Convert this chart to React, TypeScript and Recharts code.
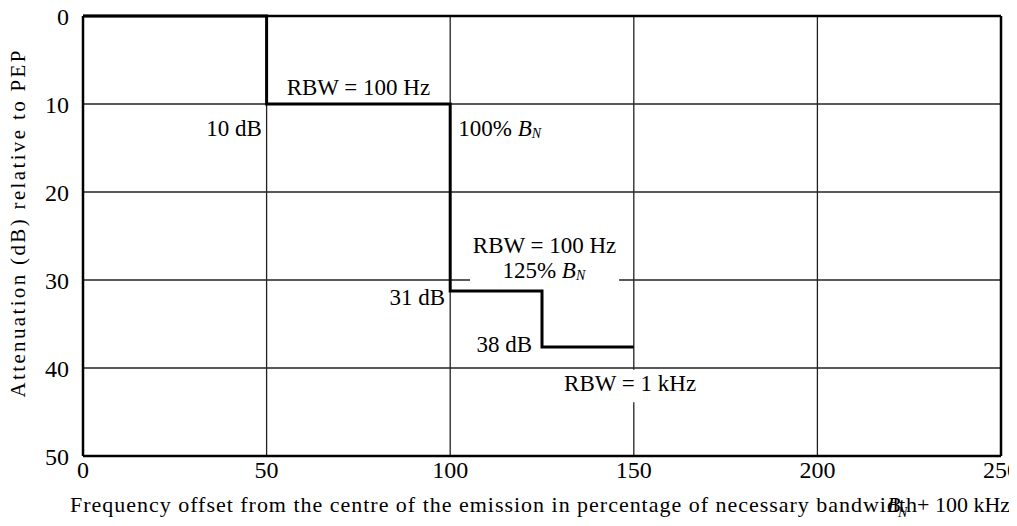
import React from "react";
import {
  LineChart,
  Line,
  XAxis,
  YAxis,
  CartesianGrid,
  ReferenceLine,
  ReferenceArea,
  ReferenceDot,
} from "recharts";

// Frequency offset (% of necessary bandwidth) and attenuation (dB) of the mask
const freqOffset = [0, 50, 100, 125, 150];
const attenuation = [0, 10, 31.25, 37.6, 37.6];
const xTicks = [0, 50, 100, 150, 200, 250];
const yTicks = [0, 10, 20, 30, 40, 50];

const data = freqOffset.map((f, i) => ({ f, a: attenuation[i] }));

const FONT = "Liberation Serif";

type Note = { x: number; y: number; text: string; bn?: boolean; anchor: "start" | "middle" | "end" };

const notes: Note[] = [
  { x: 75, y: 8.1, text: "RBW = 100 Hz", anchor: "middle" },
  { x: 48.7, y: 12.7, text: "10 dB", anchor: "end" },
  { x: 102.2, y: 12.7, text: "100% ", bn: true, anchor: "start" },
  { x: 125.7, y: 26.0, text: "RBW = 100 Hz", anchor: "middle" },
  { x: 125.5, y: 28.9, text: "125% ", bn: true, anchor: "middle" },
  { x: 98.6, y: 31.9, text: "31 dB", anchor: "end" },
  { x: 122.3, y: 37.3, text: "38 dB", anchor: "end" },
  { x: 149, y: 41.7, text: "RBW = 1 kHz", anchor: "middle" },
];

const whiteBoxes = [
  { x1: 105.4, x2: 146, y1: 24.5, y2: 30.6 },
  { x1: 130, x2: 168, y1: 40.2, y2: 43.9 },
];

const noteShape = (n: Note) => (p: any) => (
  <text
    x={p.cx}
    y={p.cy}
    textAnchor={n.anchor}
    dominantBaseline="central"
    fontFamily={FONT}
    fontSize={23}
    fill="#000"
  >
    <tspan>{n.text}</tspan>
    {n.bn ? <tspan fontStyle="italic">B</tspan> : null}
    {n.bn ? (
      <tspan fontStyle="italic" fontSize={14} dy={5}>
        N
      </tspan>
    ) : null}
  </text>
);

const XTitle = (props: any) => {
  const vb = props.viewBox || { x: 0, y: 0 };
  const x0 = vb.x;
  const y0 = vb.y + 56;
  return (
    <g fontFamily={FONT} fontSize={22} fill="#000">
      <text x={x0 - 13} y={y0} textLength={847} lengthAdjust="spacing">
        Frequency offset from the centre of the emission in percentage of necessary bandwidth
      </text>
      <text x={x0 + 804} y={y0} fontStyle="italic">
        B
      </text>
      <text x={x0 + 815} y={y0 + 5} fontStyle="italic" fontSize={14}>
        N
      </text>
      <text x={x0 + 834} y={y0}>+ 100 kHz</text>
    </g>
  );
};

const YTitle = () => {
  const cx = 18;
  const cy = 224;
  return (
    <text
      x={cx}
      y={cy}
      transform={`rotate(-90 ${cx} ${cy})`}
      textAnchor="middle"
      dominantBaseline="central"
      fontFamily={FONT}
      fontSize={21}
      fill="#000"
      textLength={347}
      lengthAdjust="spacing"
    >
      Attenuation (dB) relative to PEP
    </text>
  );
};

export default function App() {
  return (
    <div style={{ margin: "-8px 0 0 -8px", width: 1017, height: 526 }}>
      <LineChart
        width={1017}
        height={526}
        data={data}
        margin={{ top: 16, right: 16, bottom: 40, left: 23 }}
        style={{ background: "#fff" }}
      >
        <CartesianGrid stroke="#222" strokeWidth={1.3} verticalValues={xTicks} horizontalValues={yTicks} />
        {whiteBoxes.map((b, i) => (
          <ReferenceArea
            key={"box" + i}
            x1={b.x1}
            x2={b.x2}
            y1={b.y1}
            y2={b.y2}
            fill="#fff"
            fillOpacity={1}
            stroke="none"
            ifOverflow="visible"
          />
        ))}
        <XAxis
          type="number"
          dataKey="f"
          domain={[0, 250]}
          ticks={xTicks}
          tickLine={false}
          axisLine={false}
          tickSize={0}
          tickMargin={5}
          height={30}
          interval={0}
          tick={{ fontFamily: FONT, fontSize: 24, fill: "#000" }}
          label={{ content: XTitle }}
        />
        <YAxis
          type="number"
          reversed
          domain={[0, 50]}
          ticks={yTicks}
          tickLine={false}
          axisLine={false}
          tickSize={0}
          tickMargin={14}
          width={60}
          interval={0}
          tick={{ fontFamily: FONT, fontSize: 24, fill: "#000" }}
          label={{ content: YTitle }}
        />
        <Line
          type="stepAfter"
          dataKey="a"
          stroke="#000"
          strokeWidth={3}
          dot={false}
          activeDot={false}
          isAnimationActive={false}
        />
        <ReferenceLine y={0} stroke="#000" strokeWidth={2.5} />
        <ReferenceLine y={50} stroke="#000" strokeWidth={2.5} />
        <ReferenceLine x={0} stroke="#000" strokeWidth={2.5} />
        <ReferenceLine x={250} stroke="#000" strokeWidth={2.5} />
        {notes.map((n, i) => (
          <ReferenceDot
            key={"note" + i}
            x={n.x}
            y={n.y}
            r={0}
            fill="none"
            stroke="none"
            ifOverflow="visible"
            shape={noteShape(n)}
          />
        ))}
      </LineChart>
    </div>
  );
}
